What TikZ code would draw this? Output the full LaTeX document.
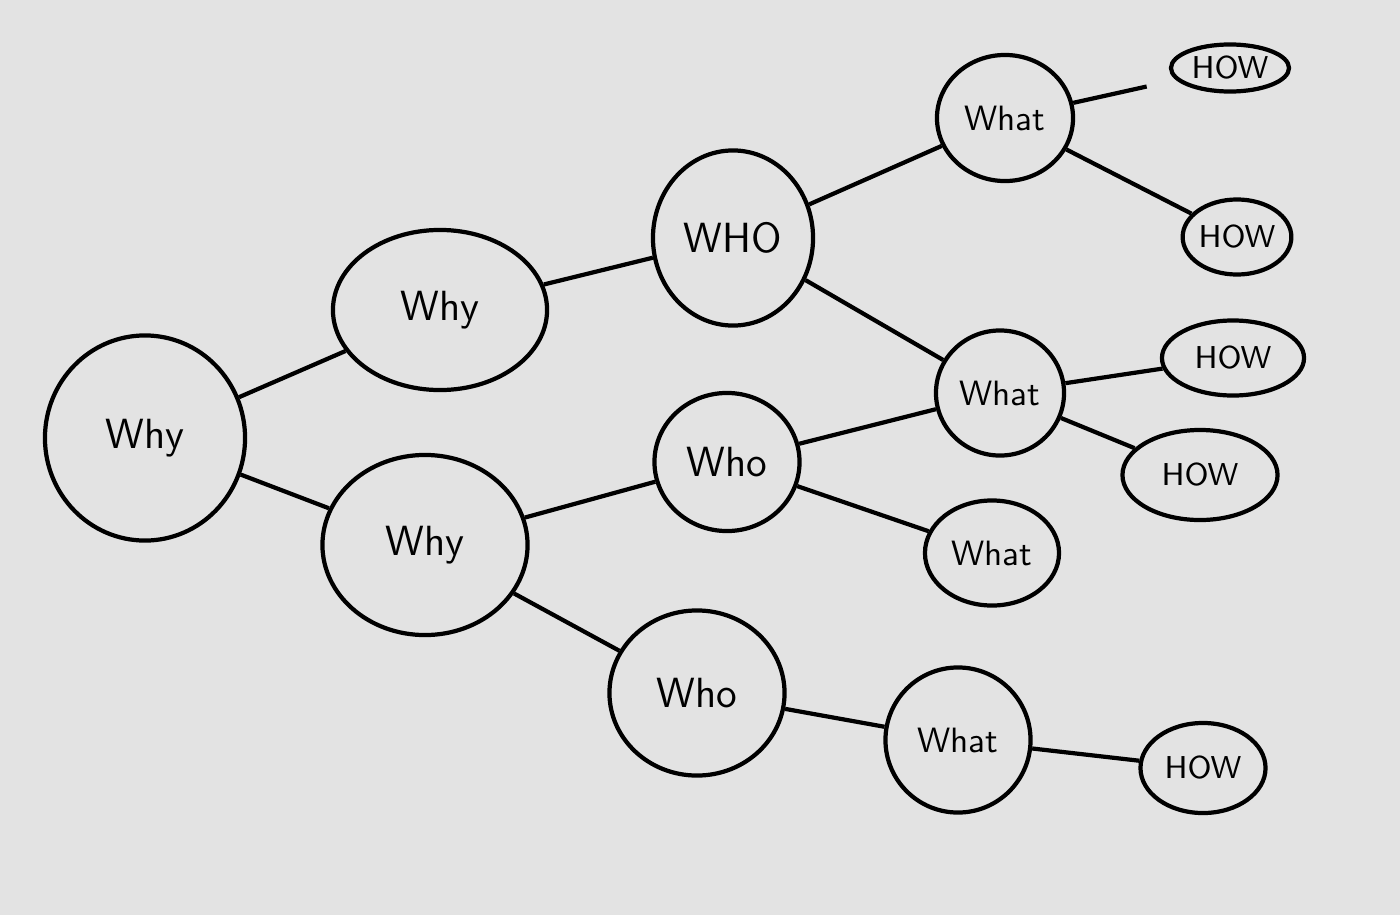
\documentclass[tikz,border=0pt]{standalone}
\usetikzlibrary{shapes.geometric}
\begin{document}
\begin{tikzpicture}[x=0.01cm, y=-0.01cm, line width=1.2pt,
  every node/.style={ellipse, draw, inner sep=0pt, font=\sffamily\large},
  howbub/.style={font=\sffamily\small}]
  \fill[black!11] (0,0) rectangle (1400,915);
  \node[minimum width=2.00cm, minimum height=2.05cm] (why) at (145,438) {Why};
  \node[minimum width=2.14cm, minimum height=1.60cm] (whyA) at (440,310) {Why};
  \node[minimum width=2.05cm, minimum height=1.80cm] (whyB) at (425,545) {Why};
  \node[minimum width=1.60cm, minimum height=1.75cm] (whoA) at (733,238) {WHO};
  \node[minimum width=1.45cm, minimum height=1.38cm] (whoB) at (727,462) {Who};
  \node[minimum width=1.75cm, minimum height=1.65cm] (whoC) at (697,693) {Who};
  \node[minimum width=1.36cm, minimum height=1.26cm, font=\sffamily] (whatA) at (1005,118) {What};
  \node[minimum width=1.28cm, minimum height=1.25cm, font=\sffamily] (whatB) at (1000,393) {What};
  \node[minimum width=1.34cm, minimum height=1.05cm, font=\sffamily] (whatC) at (992,553) {What};
  \node[minimum width=1.45cm, minimum height=1.45cm, font=\sffamily] (whatD) at (958,740) {What};
  \node[howbub, minimum width=1.18cm, minimum height=0.47cm] (howA) at (1230,68) {HOW};
  \node[howbub, minimum width=1.05cm, minimum height=0.75cm] (howB) at (1237,237) {HOW};
  \node[howbub, minimum width=1.42cm, minimum height=0.75cm] (howC) at (1233,358) {HOW};
  \node[howbub, minimum width=1.55cm, minimum height=0.90cm] (howD) at (1200,475) {HOW};
  \node[howbub, minimum width=1.25cm, minimum height=0.90cm] (howE) at (1203,768) {HOW};
  \draw (why) -- (whyA) (why) -- (whyB)
    (whyA) -- (whoA) (whyB) -- (whoB) (whyB) -- (whoC)
    (whoA) -- (whatA) (whoA) -- (whatB) (whoB) -- (whatB) (whoB) -- (whatC)
    (whoC) -- (whatD)
    (whatA) -- (howB) (whatB) -- (howC) (whatB) -- (howD) (whatD) -- (howE);
  \draw[shorten >=0.3cm] (whatA) -- (howA);
\end{tikzpicture}
\end{document}
